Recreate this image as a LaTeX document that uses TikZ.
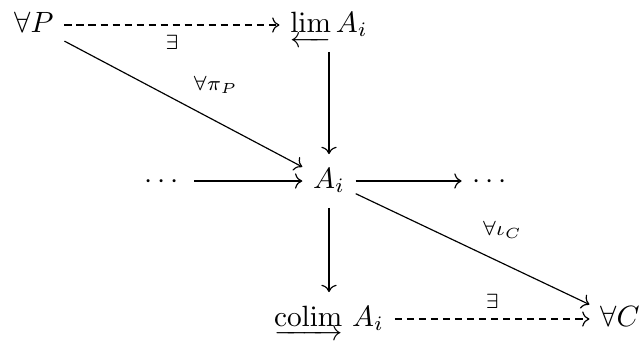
\documentclass[tikz,border=0pt]{standalone}
\usepackage{amsmath}
\usetikzlibrary{arrows.meta}
\begin{document}
\begin{tikzpicture}[x=0.341pt,y=-0.341pt,
  obj/.style={text height=9pt,text depth=4pt,inner xsep=3.5pt,inner ysep=2.5pt},
  mor/.style={-{Computer Modern Rightarrow},line width=0.4pt},
  dmor/.style={mor,dash pattern=on 2.5pt off 1.6pt},
  lab/.style={font=\scriptsize}]
\useasboundingbox (0,0) rectangle (643,350);
\node[obj] (P) at (34,25) {$\forall P$};
\node[obj] (L) at (329,25) {$\varprojlim A_i$};
\node[obj] (A) at (329,181) {$A_i$};
\node[obj] (dl) at (164,181) {$\cdots$};
\node[obj] (dr) at (492,181) {$\cdots$};
\node[obj] (Co) at (329,319) {$\mathop{\underrightarrow{\mathrm{colim}}}\, A_i$};
\node[obj] (C) at (620,319) {$\forall C$};
\draw[dmor] (P) -- node[lab,below]{$\exists$} (L);
\draw[mor] (P) -- node[lab,above right]{$\forall\pi_P$} (A);
\draw[mor] (L) -- (A);
\draw[mor] (dl) -- (A);
\draw[mor] (A) -- (dr);
\draw[mor] (A) -- (Co);
\draw[mor] (A) -- node[lab,above right]{$\forall\iota_C$} (C);
\draw[dmor] (Co) -- node[lab,above]{$\exists$} (C);
\end{tikzpicture}
\end{document}
